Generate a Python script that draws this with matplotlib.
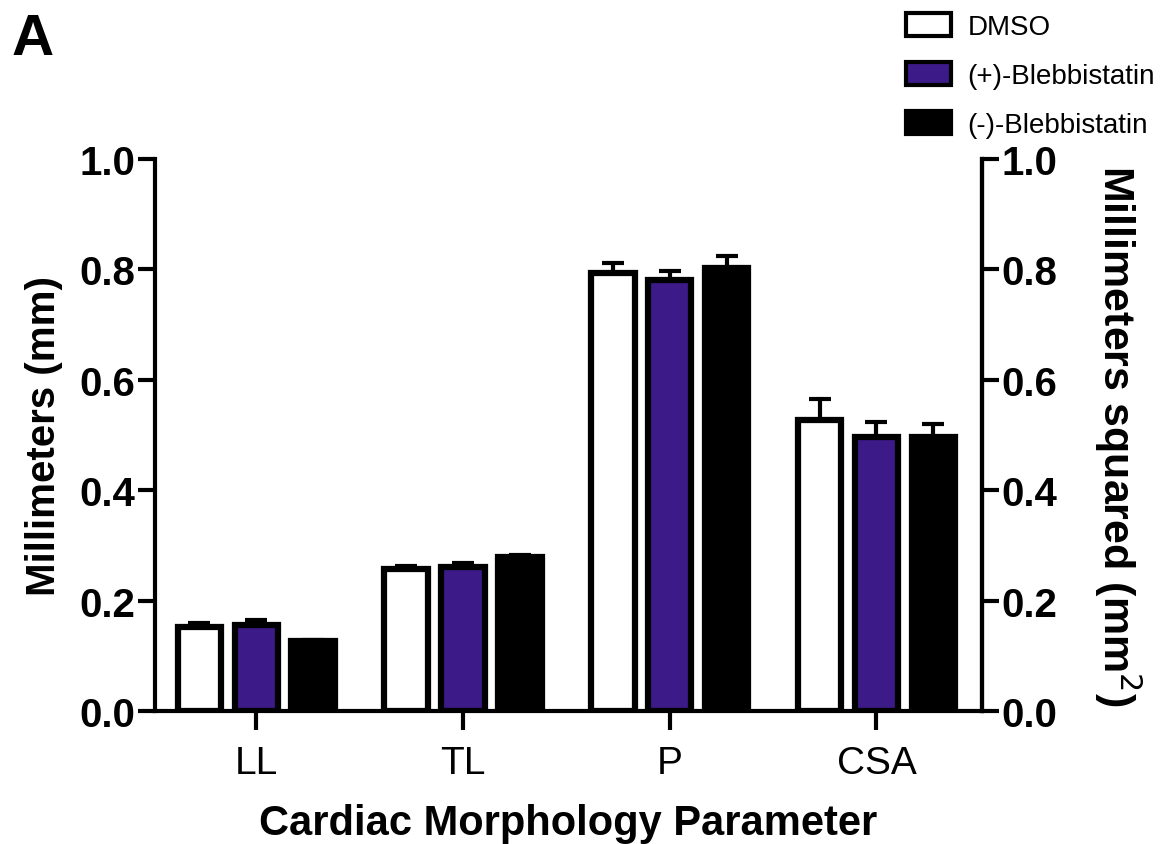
import numpy as np
import matplotlib
matplotlib.use("Agg")
import matplotlib.pyplot as plt

plt.rcParams['font.family'] = ['Liberation Sans', 'DejaVu Sans']

# data
params = ['LL', 'TL', 'P', 'CSA']
groups = ['DMSO', '(+)-Blebbistatin', '(-)-Blebbistatin']
dmso = [0.152, 0.257, 0.793, 0.527]
dmso_err = [0.008, 0.006, 0.018, 0.038]
plus_bleb = [0.156, 0.262, 0.780, 0.496]
plus_err = [0.009, 0.006, 0.017, 0.027]
minus_bleb = [0.127, 0.279, 0.803, 0.497]
minus_err = [0.002, 0.004, 0.022, 0.024]
yticks = [0.0, 0.2, 0.4, 0.6, 0.8, 1.0]

colors = ['white', '#3c1a87', 'black']

fig = plt.figure(figsize=(11.62, 8.45), dpi=100)
ax = fig.add_axes([0.1334, 0.157, 0.7116, 0.6537])

x = np.arange(len(params))
pitch = 0.275
width = 0.21
series = [(dmso, dmso_err), (plus_bleb, plus_err), (minus_bleb, minus_err)]
for i, (vals, errs) in enumerate(series):
    pos = x + (i - 1) * pitch
    ax.bar(pos, vals, width, color=colors[i], edgecolor='black', linewidth=4.5,
           label=groups[i], zorder=3)
    ax.errorbar(pos, vals, yerr=[np.zeros(len(vals)), errs], fmt='none',
                ecolor='black', elinewidth=3, capsize=8, capthick=3, zorder=2)

ax.set_xlim(-0.49, 3.51)
ax.set_ylim(0, 1.0)
ax.set_yticks(yticks)
ax.set_yticklabels([f'{t:.1f}' for t in yticks], fontsize=29, fontweight='bold')
ax.set_xticks(x)
ax.set_xticklabels(params, fontsize=28)
for s in ['left', 'bottom', 'right']:
    ax.spines[s].set_linewidth(3)
ax.spines['top'].set_visible(False)
ax.tick_params(axis='y', width=3, length=12, pad=2)
ax.tick_params(axis='x', width=3, length=14, pad=10)
ax.set_ylabel('Millimeters (mm)', fontsize=29, fontweight='bold', labelpad=12)
ax.set_xlabel('Cardiac Morphology Parameter', fontsize=30, fontweight='bold', labelpad=16)

ax2 = ax.twinx()
ax2.set_ylim(0, 1.0)
ax2.set_yticks(yticks)
ax2.set_yticklabels([f'{t:.1f}' for t in yticks], fontsize=29, fontweight='bold')
ax2.spines['top'].set_visible(False)
ax2.spines['right'].set_linewidth(3)
ax2.tick_params(axis='y', width=3, length=12, pad=2)
ax2.set_ylabel('Millimeters squared (mm$^2$)', fontsize=31, fontweight='bold',
               rotation=-90, labelpad=62)

leg = ax.legend(loc='upper left', bbox_to_anchor=(0.895, 1.285), frameon=False,
                fontsize=20, handlelength=1.6, handleheight=0.9,
                labelspacing=0.8, handletextpad=0.6, borderaxespad=0)
for p in leg.get_patches():
    p.set_linewidth(3)

fig.text(0.01, 0.985, 'A', fontsize=42, fontweight='bold', va='top', ha='left')

fig.savefig('out.png', dpi=100)
